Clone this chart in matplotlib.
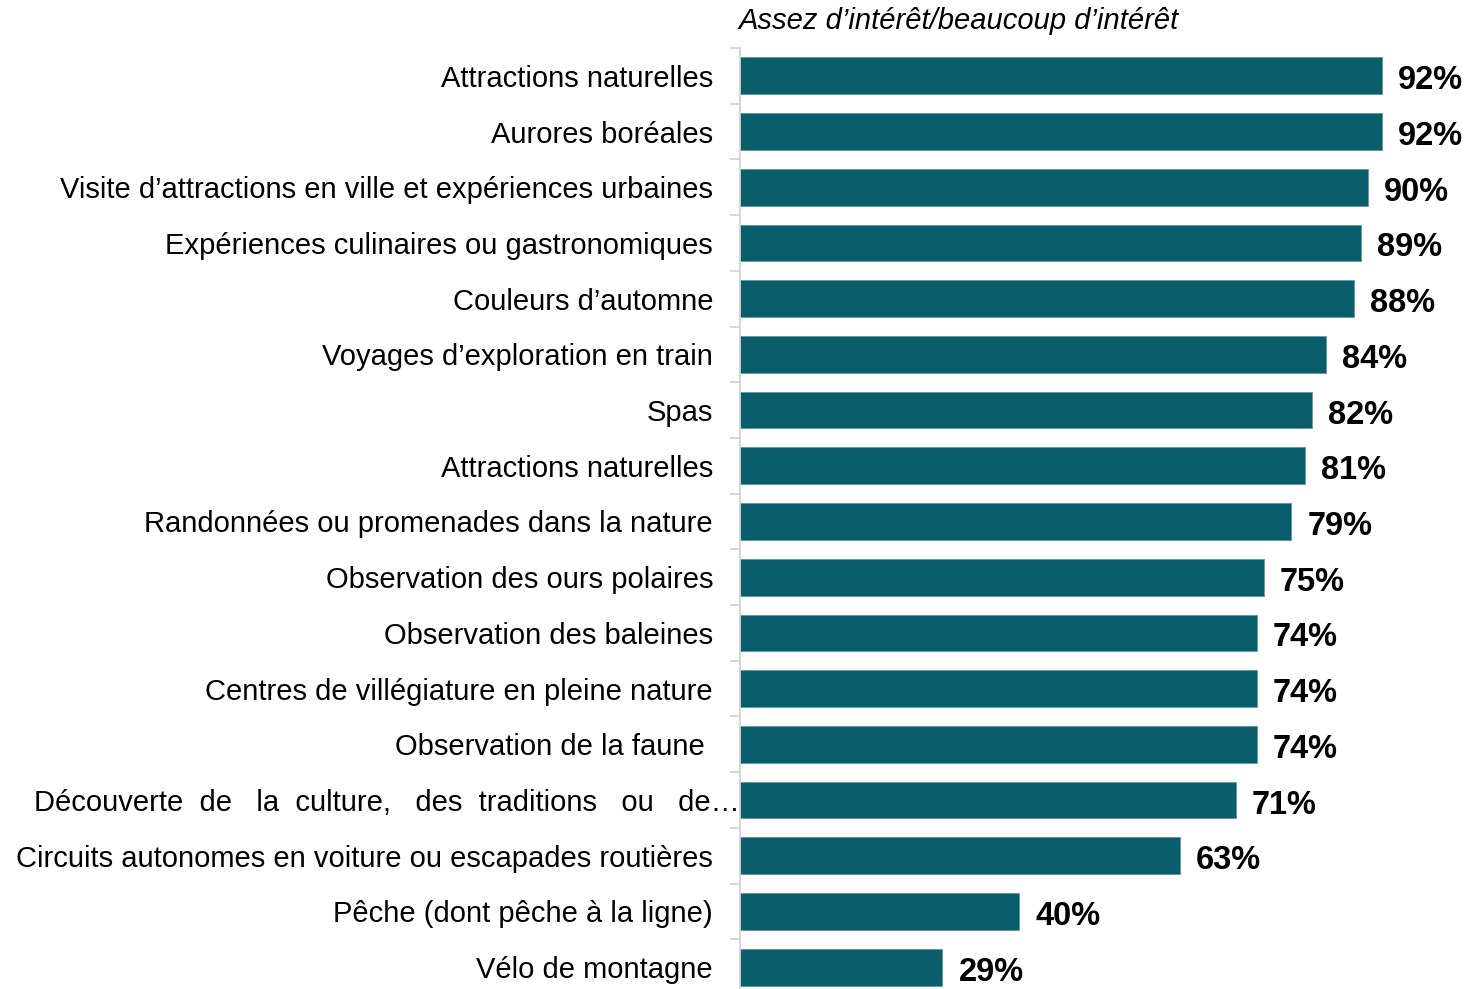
import matplotlib
matplotlib.use("Agg")
import matplotlib.pyplot as plt
from matplotlib.transforms import ScaledTranslation

categories = [
    "Attractions naturelles",
    "Aurores boréales",
    "Visite d\u2019attractions en ville et expériences urbaines",
    "Expériences culinaires ou gastronomiques",
    "Couleurs d\u2019automne",
    "Voyages d\u2019exploration en train",
    "Spas",
    "Attractions naturelles",
    "Randonnées ou promenades dans la nature",
    "Observation des ours polaires",
    "Observation des baleines",
    "Centres de villégiature en pleine nature",
    "Observation de la faune ",
    "Découverte  de   la  culture,   des  traditions   ou   de\u2026",
    "Circuits autonomes en voiture ou escapades routières",
    "Pêche (dont pêche à la ligne)",
    "Vélo de montagne",
]
values = [92, 92, 90, 89, 88, 84, 82, 81, 79, 75, 74, 74, 74, 71, 63, 40, 29]
value_labels = [f"{v}%" for v in values]
title = "Assez d\u2019intérêt/beaucoup d\u2019intérêt"

plt.rcParams['font.family'] = ['Liberation Sans', 'DejaVu Sans']

W, H, DPI = 1466, 989, 100
fig = plt.figure(figsize=(W / DPI, H / DPI), dpi=DPI)
left_px, right_px, top_px, bot_px = 740, 1438, 48, 995
ax = fig.add_axes([left_px / W, 1 - bot_px / H, (right_px - left_px) / W, (bot_px - top_px) / H])

color = "#0a5e6b"
n = len(categories)
ypos = list(range(n))
ax.barh(ypos, values, height=0.66, color=color, edgecolor="#5f98a1", linewidth=0.6)
ax.set_xlim(0, 100)
ax.set_ylim(n - 0.5, -0.5)

ax.set_yticks(ypos)
ax.set_yticklabels(categories, fontsize=21)
ax.tick_params(axis='y', which='major', length=0, pad=19.4)
ax.set_yticks([i - 0.5 for i in range(n + 1)], minor=True)
ax.tick_params(axis='y', which='minor', length=7, color="#d0d0d0", width=1.2)
ax.set_xticks([])
for s in ["top", "right", "bottom"]:
    ax.spines[s].set_visible(False)
ax.spines["left"].set_color("#d0d0d0")
ax.spines["left"].set_linewidth(1.2)

# shift the truncated justified label to reach the axis
lbl = ax.get_yticklabels()[13]
lbl.set_transform(lbl.get_transform() + ScaledTranslation(27 / DPI, 0, fig.dpi_scale_trans))

for y, v, t in zip(ypos, values, value_labels):
    ax.annotate(t, (v, y), xytext=(16, -5), textcoords="offset pixels",
                va="center", ha="left", fontsize=23.5, fontweight="bold", color="black")

fig.text(738 / W, 1 - 21 / H, title, fontsize=21, style="italic", va="center", ha="left")

fig.savefig("out.png", dpi=DPI)
